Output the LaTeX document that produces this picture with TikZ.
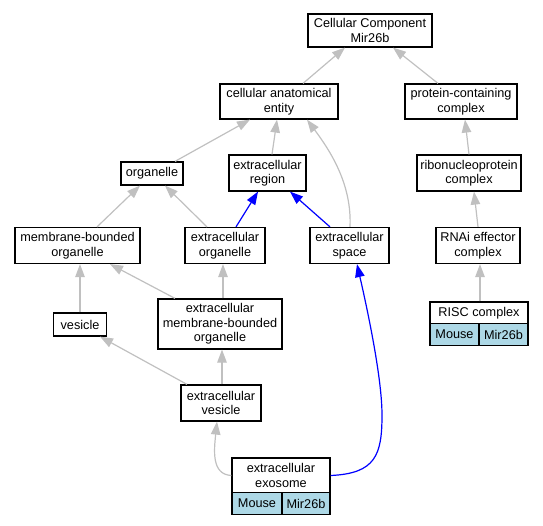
\documentclass[tikz,border=0pt]{standalone}
\usepackage{fontspec}
\setmainfont{Liberation Sans}
\usetikzlibrary{arrows.meta}
\definecolor{edgegray}{HTML}{C0C0C0}
\definecolor{cellblue}{HTML}{ADD8E6}
\begin{document}
\begin{tikzpicture}[x=1pt,y=-1pt,
  box/.style={draw=black,line width=1.2pt,fill=white,inner sep=0pt,align=center,
    font=\fontsize{12.7}{14.5}\selectfont},
  cell/.style={box,fill=cellblue},
  gedge/.style={draw=edgegray,line width=1.2pt,-{Triangle[length=13pt,width=9.5pt]}},
  bedge/.style={draw=blue,line width=1.2pt,-{Triangle[length=13pt,width=9.5pt]}}]
\useasboundingbox (0,0) rectangle (543,525);
% nodes
\node[box,minimum width=124pt,minimum height=33pt] (cc) at (370,30.5) {Cellular Component\\Mir26b};
\node[box,minimum width=118pt,minimum height=35pt] (cae) at (279,101.5) {cellular anatomical\\entity};
\node[box,minimum width=112pt,minimum height=35pt] (pcc) at (461,101.5) {protein-containing\\complex};
\node[box,minimum width=62pt,minimum height=23pt] (org) at (152,173.5) {organelle};
\node[box,minimum width=77pt,minimum height=36pt] (er) at (267.5,173) {extracellular\\region};
\node[box,minimum width=104pt,minimum height=36pt] (ribo) at (469,173) {ribonucleoprotein\\complex};
\node[box,minimum width=125pt,minimum height=36pt] (mbo) at (77.5,245.5) {membrane-bounded\\organelle};
\node[box,minimum width=80pt,minimum height=36pt] (eo) at (225,245.5) {extracellular\\organelle};
\node[box,minimum width=79pt,minimum height=36pt] (esp) at (349.5,245.5) {extracellular\\space};
\node[box,minimum width=84pt,minimum height=36pt] (rnai) at (478,245.5) {RNAi effector\\complex};
\node[box,minimum width=53pt,minimum height=23pt] (ves) at (80,324.5) {vesicle};
\node[box,minimum width=124pt,minimum height=50pt] (embo) at (220,324) {extracellular\\membrane-bounded\\organelle};
\node[box,minimum width=80pt,minimum height=36pt] (ev) at (221,403) {extracellular\\vesicle};
\node[box,minimum width=98pt,minimum height=22pt] (risc) at (479,313) {RISC complex};
\node[cell,minimum width=49pt,minimum height=21.5pt] (riscm) at (454.5,334.5) {Mouse};
\node[cell,minimum width=49pt,minimum height=21.5pt] (riscg) at (503.5,334.5) {Mir26b};
\node[box,minimum width=98pt,minimum height=35pt] (exo) at (281,475.5) {extracellular\\exosome};
\node[cell,minimum width=50pt,minimum height=21.5pt] (exom) at (257,503.5) {Mouse};
\node[cell,minimum width=48pt,minimum height=21.5pt] (exog) at (306,503.5) {Mir26b};
\coordinate (bend) at (382,415);
% edges
\draw[gedge] ([xshift=24pt]cae.north) -- ([xshift=-25pt]cc.south);
\draw[gedge] ([xshift=-23pt]pcc.north) -- ([xshift=23pt]cc.south);
\draw[gedge] ([xshift=23pt]org.north) -- ([xshift=-29pt]cae.south);
\draw[gedge] ([xshift=4.5pt]er.north) -- ([xshift=-2pt]cae.south);
\draw[gedge] ([xshift=0.5pt]esp.north) .. controls +(2,-43) and +(23,31) .. ([xshift=28pt]cae.south);
\draw[gedge] (ribo.north) -- ([xshift=4pt]pcc.south);
\draw[gedge] ([xshift=19.5pt]mbo.north) -- ([xshift=-12pt]org.south);
\draw[gedge] ([xshift=-18pt]eo.north) -- ([xshift=13pt]org.south);
\draw[bedge] ([xshift=11pt]eo.north) -- ([xshift=-9.5pt]er.south);
\draw[bedge] ([xshift=-19.5pt]esp.north) -- ([xshift=22.5pt]er.south);
\draw[gedge] (rnai.north) -- ([xshift=5pt]ribo.south);
\draw[gedge] (ves.north) -- ([xshift=2.5pt]mbo.south);
\draw[gedge] ([xshift=-45pt]embo.north) -- ([xshift=32.5pt]mbo.south);
\draw[gedge] ([xshift=3pt]embo.north) -- ([xshift=-2pt]eo.south);
\draw[gedge] ([xshift=1pt]risc.north) -- ([xshift=2pt]rnai.south);
\draw[gedge] ([xshift=-34pt]ev.north) -- ([xshift=20pt]ves.south);
\draw[gedge] ([xshift=1pt]ev.north) -- ([xshift=2pt]embo.south);
\draw[gedge] (exo.west) .. controls +(-20,-1) and +(-3,29) .. ([xshift=-4pt]ev.south);
\draw[bedge] (exo.east) .. controls +(45,-2) and +(0,40) .. (bend)
  .. controls +(0,-40) and +(8,35) .. ([xshift=7.5pt]esp.south);
\end{tikzpicture}
\end{document}
